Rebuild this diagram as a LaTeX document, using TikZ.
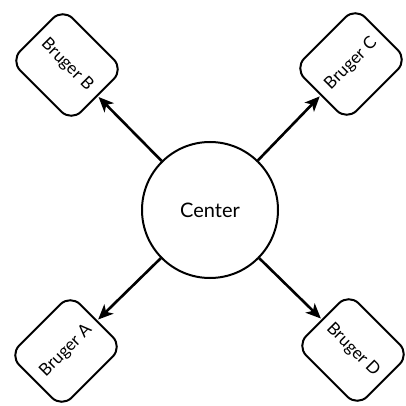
\documentclass[tikz,border=0pt]{standalone}
\usepackage{fontspec}
\setmainfont{Lato}
\usetikzlibrary{arrows.meta}
\tikzset{
  userbox/.style={draw, line width=2pt, rounded corners=14pt, minimum width=86pt, minimum height=74pt, inner sep=2pt, font=\fontsize{17}{19}\selectfont},
  hub/.style={draw, circle, line width=2pt, minimum size=136pt, inner sep=0pt, font=\fontsize{20}{22}\selectfont},
  link/.style={line width=2.6pt, -{Stealth[length=15pt,width=13pt,inset=4pt]}, shorten >=1pt}
}
\begin{document}
\begin{tikzpicture}[x=1pt,y=-1pt]
\useasboundingbox (0,0) rectangle (406,406);
\node[hub] (c) at (210,210) {Center};
\node[userbox, rotate=-45] (b) at (67,65) {Bruger B};
\node[userbox, rotate=45] (cc) at (351,64) {Bruger C};
\node[userbox, rotate=45] (a) at (66,351) {Bruger A};
\node[userbox, rotate=-45] (d) at (353,350) {Bruger D};
\draw[link] (c) -- (b);
\draw[link] (c) -- (cc);
\draw[link] (c) -- (a);
\draw[link] (c) -- (d);
\end{tikzpicture}
\end{document}
